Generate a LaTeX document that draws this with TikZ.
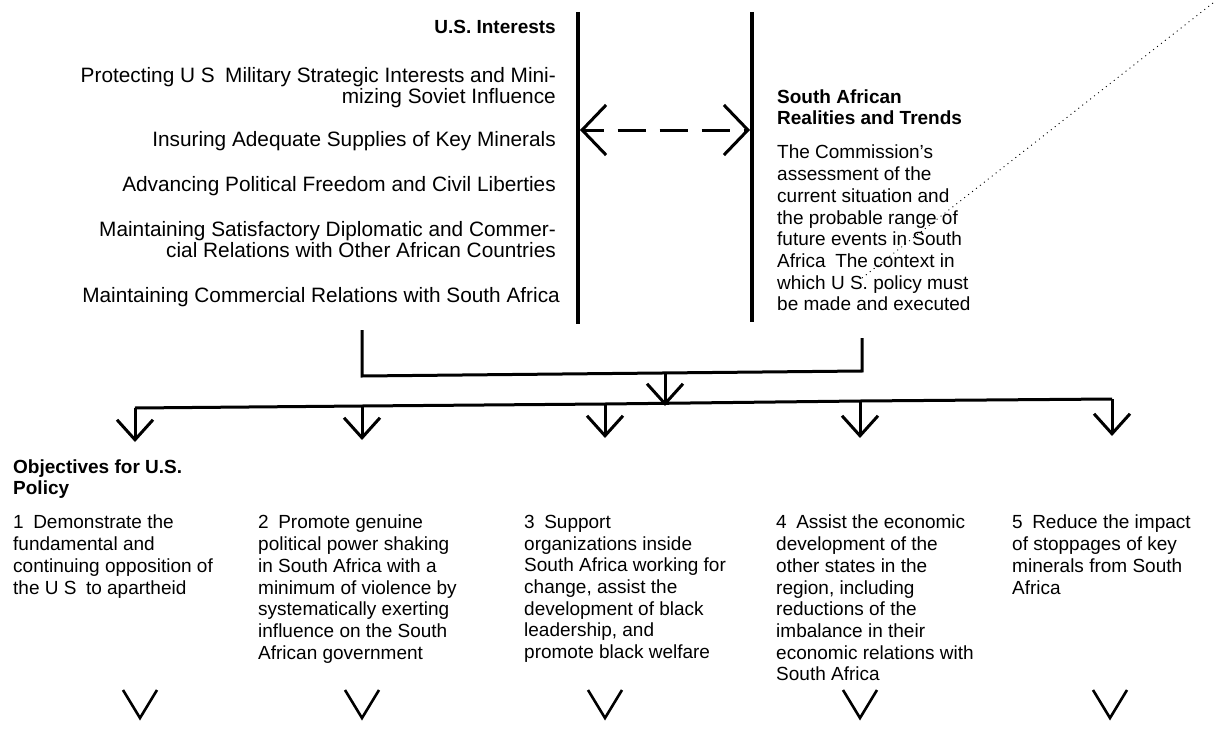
\documentclass[tikz,border=0pt]{standalone}
\usepackage{fontspec}
\setmainfont{Liberation Sans}
\usetikzlibrary{arrows.meta}
\begin{document}
\begin{tikzpicture}[x=1pt,y=-1pt,
  txt/.style={inner sep=0pt,font=\fontsize{19}{21.7}\selectfont},
  rtxt/.style={inner sep=0pt,font=\fontsize{20.8}{21.5}\selectfont,anchor=north east,align=right},
  ltxt/.style={txt,anchor=north west,align=left},
  hdr/.style={inner sep=0pt,font=\fontsize{19}{20.5}\selectfont\bfseries},
  bar/.style={line width=4pt},
  wire/.style={line width=3pt},
  vhead/.style={-{Straight Barb[length=20pt,width=36pt,line width=3pt]}},
  twohead/.style={{Straight Barb[length=24pt,width=50pt,line width=3pt]}-{Straight Barb[length=24pt,width=50pt,line width=3pt]}},
  vmark/.style={line width=2.6pt,line join=miter}
]
\useasboundingbox (0,0) rectangle (1225,741);

% --- U.S. Interests column (right aligned)
\node[hdr,anchor=north east] (ushead) at (556,20) {U.S. Interests};
\node[rtxt] (i1) at (556,67) {Protecting U S\enspace Military Strategic Interests and Mini-\\mizing Soviet Influence};
\node[rtxt] (i2) at (556,131) {Insuring Adequate Supplies of Key Minerals};
\node[rtxt] (i3) at (556,176) {Advancing Political Freedom and Civil Liberties};
\node[rtxt] (i4) at (556,221) {Maintaining Satisfactory Diplomatic and Commer-\\cial Relations with Other African Countries};
\node[rtxt] (i5) at (560,287) {Maintaining Commercial Relations with South Africa};

% --- two vertical bars
\coordinate (Lt) at (578,12);  \coordinate (Lb) at (578,324);
\coordinate (Rt) at (752,12);  \coordinate (Rb) at (752,322);
\draw[bar] (Lt) -- (Lb);
\draw[bar] (Rt) -- (Rb);
\coordinate (da) at (580,130); \coordinate (db) at (750,130);
\draw[wire,dash pattern=on 28pt off 14pt,dash phase=8pt,twohead] (da) -- (db);

% --- South African realities
\node[hdr,anchor=north west,align=left] (sahead) at (777,90) {South African\\Realities and Trends};
\node[ltxt] (sa) at (777,145) {The Commission's\\assessment of the\\current situation and\\the probable range of\\future events in South\\Africa\enspace The context in\\which U S. policy must\\be made and executed};

% dotted scan line
\coordinate (d1) at (1213,3); \coordinate (d2) at (862,278);
\draw[line width=0.9pt,dash pattern=on 1pt off 4pt] (d1) -- (d2);

% --- bracket joining both sides
\coordinate (bl) at (362,330); \coordinate (blb) at (362,376);
\coordinate (br) at (862,338); \coordinate (brb) at (862,371);
\draw[wire] (bl) -- (blb) -- (brb) -- (br);
\coordinate (mid) at (665,373); \coordinate (midtip) at (665,406);
\draw[wire,vhead] (mid) -- (midtip);

% --- distribution bus
\coordinate (b1) at (135,408); \coordinate (b2) at (362,406); \coordinate (b3) at (605,404);
\coordinate (b4) at (860,401); \coordinate (b5) at (1112,399);
\draw[wire] (b1) -- (b2) -- (b3) -- (b4) -- (b5);
\coordinate (t1) at (135,442); \coordinate (t2) at (362,440); \coordinate (t3) at (605,438);
\coordinate (t4) at (860,438); \coordinate (t5) at (1112,436);
\foreach \i in {1,...,5} \draw[wire,vhead] (b\i) -- (t\i);

% --- objectives
\node[hdr,anchor=north west,align=left] (objhead) at (13,460) {Objectives for U.S.\\Policy};
\node[ltxt] (o1) at (13,515) {1\enspace Demonstrate the\\fundamental and\\continuing opposition of\\the U S\enspace to apartheid};
\node[ltxt] (o2) at (258,515) {2\enspace Promote genuine\\political power shaking\\in South Africa with a\\minimum of violence by\\systematically exerting\\influence on the South\\African government};
\node[ltxt] (o3) at (524,515) {3\enspace Support\\organizations inside\\South Africa working for\\change, assist the\\development of black\\leadership, and\\promote black welfare};
\node[ltxt] (o4) at (776,515) {4\enspace Assist the economic\\development of the\\other states in the\\region, including\\reductions of the\\imbalance in their\\economic relations with\\South Africa};
\node[ltxt] (o5) at (1012,515) {5\enspace Reduce the impact\\of stoppages of key\\minerals from South\\Africa};

% --- trailing V marks
\foreach \i/\x in {1/140,2/362,3/605,4/860,5/1110}{
  \coordinate (v\i) at (\x,718);
  \draw[vmark] ([shift={(-17,-28)}]v\i) -- (v\i) -- ([shift={(17,-28)}]v\i);
}
\end{tikzpicture}
\end{document}
